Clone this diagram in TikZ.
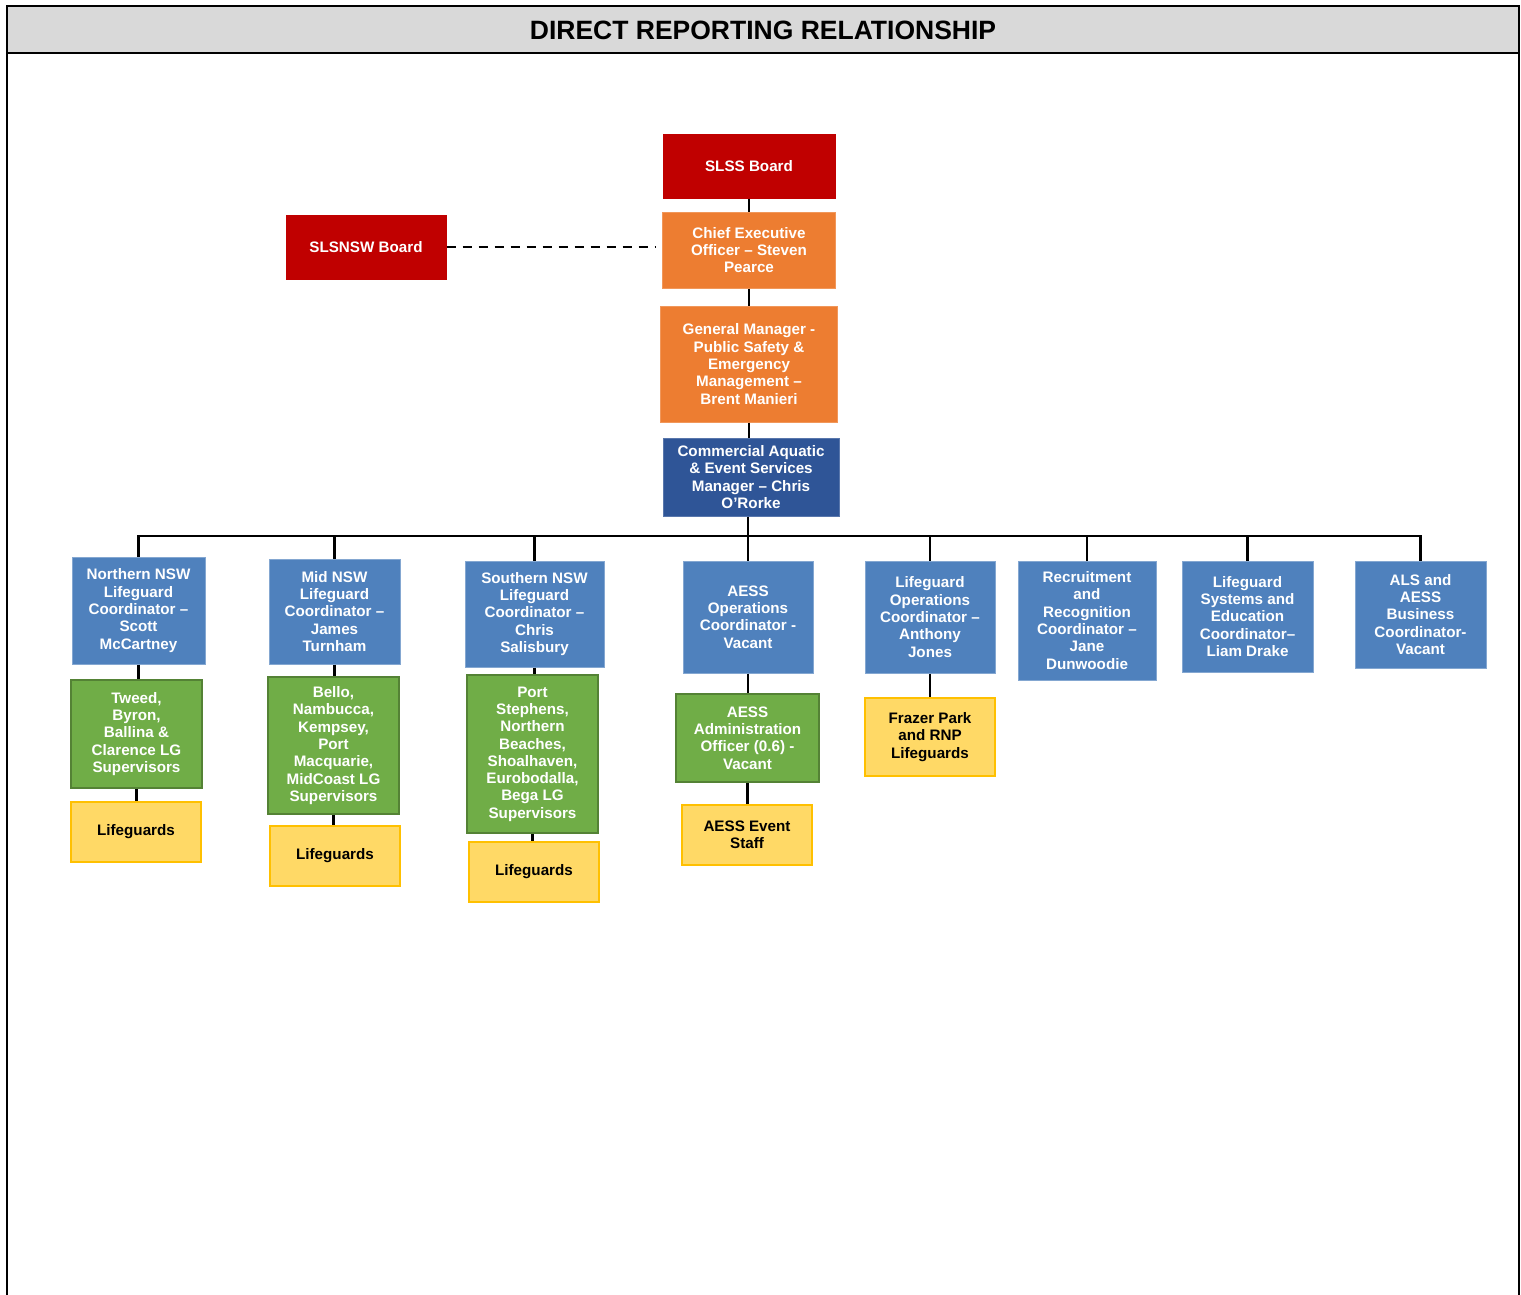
\documentclass[tikz,border=0pt]{standalone}
\usepackage{fontspec}
\setmainfont{Liberation Sans}
\begin{document}
\begin{tikzpicture}[x=1pt,y=-1pt,
  box/.style={line width=1pt, align=center, inner sep=0pt, text=white,
    font=\fontsize{15.2}{17.3}\selectfont\bfseries},
  redbox/.style={box, fill=red75, draw=red75},
  orangebox/.style={box, fill=orange75, draw=orange75!80!white},
  navybox/.style={box, fill=navy75, draw=navy75!80!white},
  bluebox/.style={box, fill=blue75, draw=blue75!70!white},
  greenbox/.style={box, fill=green75, draw=green75!75!black, line width=1.5pt},
  yellowbox/.style={box, fill=yellow75, draw=gold75, line width=2pt, text=black},
  link/.style={line width=2.7pt, draw=black},
  dashlink/.style={line width=2.7pt, draw=black, dash pattern=on 9pt off 7pt}]
\definecolor{red75}{HTML}{C00000}
\definecolor{orange75}{HTML}{ED7D31}
\definecolor{navy75}{HTML}{2F5597}
\definecolor{blue75}{HTML}{4F81BD}
\definecolor{green75}{HTML}{70AD47}
\definecolor{yellow75}{HTML}{FFD966}
\definecolor{gold75}{HTML}{FFC000}
\definecolor{head75}{HTML}{D9D9D9}
\useasboundingbox (0,0) rectangle (1521,1295);
% frame
\fill[white] (0,0) rectangle (1521,1295);
\draw[line width=2pt, fill=head75] (7,6) rectangle (1519,53);
\draw[line width=2pt] (7,53) -- (7,1295);
\draw[line width=2pt] (1519,53) -- (1519,1295);
\node[font=\fontsize{26.5}{30}\selectfont\bfseries] (title) at (763,30) {DIRECT REPORTING RELATIONSHIP};
% top chain
\node[redbox, minimum width=172, minimum height=63] (slss) at (749,166.5) {SLSS Board};
\node[redbox, minimum width=160, minimum height=64] (slsnsw) at (366,247) {SLSNSW Board};
\node[orangebox, minimum width=173, minimum height=76] (ceo) at (749,250) {Chief Executive\\Officer -- Steven\\Pearce};
\node[orangebox, minimum width=177, minimum height=116] (gm) at (749,364) {General Manager -\\Public Safety \&\\Emergency\\Management --\\Brent Manieri};
\node[navybox, minimum width=176, minimum height=78] (comm) at (751,477) {Commercial Aquatic\\\& Event Services\\Manager -- Chris\\O'Rorke};
% level 3
\node[bluebox, minimum width=133, minimum height=107] (n1) at (138.5,610.5) {Northern NSW\\Lifeguard\\Coordinator --\\Scott\\McCartney};
\node[bluebox, minimum width=131, minimum height=105] (n2) at (334.5,611.5) {Mid NSW\\Lifeguard\\Coordinator --\\James\\Turnham};
\node[bluebox, minimum width=139, minimum height=106] (n3) at (534.5,614) {Southern NSW\\Lifeguard\\Coordinator --\\Chris\\Salisbury};
\node[bluebox, minimum width=130, minimum height=112] (n4) at (748,617) {AESS\\Operations\\Coordinator -\\Vacant};
\node[bluebox, minimum width=130, minimum height=112] (n5) at (930,617) {Lifeguard\\Operations\\Coordinator --\\Anthony\\Jones};
\node[bluebox, minimum width=138, minimum height=119] (n6) at (1087,620.5) {Recruitment\\and\\Recognition\\Coordinator --\\Jane\\Dunwoodie};
\node[bluebox, minimum width=131, minimum height=111] (n7) at (1247.5,616.5) {Lifeguard\\Systems and\\Education\\Coordinator--\\Liam Drake};
\node[bluebox, minimum width=131, minimum height=107] (n8) at (1420.5,614.5) {ALS and\\AESS\\Business\\Coordinator-\\Vacant};
% level 4
\node[greenbox, minimum width=131, minimum height=108] (g1) at (136.5,734) {Tweed,\\Byron,\\Ballina \&\\Clarence LG\\Supervisors};
\node[greenbox, minimum width=131, minimum height=137] (g2) at (333.5,745.5) {Bello,\\Nambucca,\\Kempsey,\\Port\\Macquarie,\\MidCoast LG\\Supervisors};
\node[greenbox, minimum width=131, minimum height=158] (g3) at (532.5,754) {Port\\Stephens,\\Northern\\Beaches,\\Shoalhaven,\\Eurobodalla,\\Bega LG\\Supervisors};
\node[greenbox, minimum width=143, minimum height=88] (g4) at (747.5,738) {AESS\\Administration\\Officer (0.6) -\\Vacant};
% level 5
\node[yellowbox, minimum width=130, minimum height=60] (y1) at (136,832) {Lifeguards};
\node[yellowbox, minimum width=130, minimum height=60] (y2) at (335,856) {Lifeguards};
\node[yellowbox, minimum width=130, minimum height=60] (y3) at (534,872) {Lifeguards};
\node[yellowbox, minimum width=130, minimum height=60] (y4) at (747,835) {AESS Event\\Staff};
\node[yellowbox, minimum width=130, minimum height=78] (y5) at (930,737) {Frazer Park\\and RNP\\Lifeguards};
% connectors
\coordinate (busL) at (137,536);
\coordinate (busR) at (1422,536);
\coordinate (dashend) at (655,247);
\draw[link] (slss.south) -- (slss.south |- ceo.north);
\draw[link] (ceo.south) -- (ceo.south |- gm.north);
\draw[link] (gm.south) -- (gm.south |- comm.north);
\draw[dashlink] (slsnsw.east) -- (dashend);
\draw[link] (comm.south -| n4.north) -- (n4.north);
\draw[link] (busL) -- (busR);
\foreach \n in {n1,n2,n3,n5,n6,n7,n8}{
  \draw[link] (\n.north) -- (\n.north |- busL);
}
\draw[link] (n1.south) -- (n1.south |- g1.north);
\draw[link] (n2.south) -- (n2.south |- g2.north);
\draw[link] (n3.south) -- (n3.south |- g3.north);
\draw[link] (n4.south) -- (n4.south |- g4.north);
\draw[link] (g1.south) -- (g1.south |- y1.north);
\draw[link] (g2.south) -- (g2.south |- y2.north);
\draw[link] (g3.south) -- (g3.south |- y3.north);
\draw[link] (g4.south) -- (g4.south |- y4.north);
\draw[link] (n5.south) -- (n5.south |- y5.north);
\end{tikzpicture}
\end{document}
